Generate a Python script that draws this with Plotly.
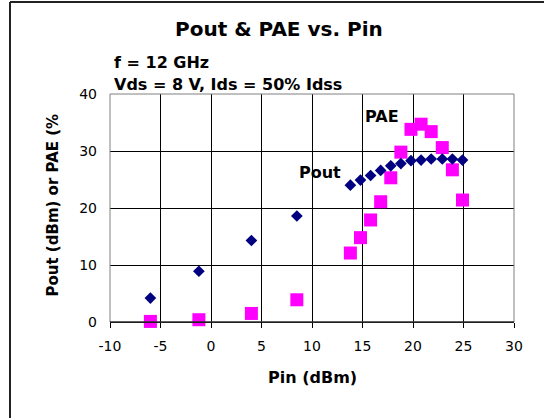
import plotly.graph_objects as go

pin = [-6.0, -1.2, 4.0, 8.5, 13.8, 14.8, 15.8, 16.8, 17.8, 18.8, 19.8, 20.8, 21.8, 22.9, 23.9, 24.9]
pout = [4.2, 8.9, 14.3, 18.6, 24.0, 24.9, 25.7, 26.6, 27.4, 27.8, 28.3, 28.4, 28.6, 28.6, 28.6, 28.4]
pae = [0.1, 0.4, 1.5, 3.9, 12.1, 14.8, 17.9, 21.1, 25.3, 29.8, 33.8, 34.7, 33.4, 30.6, 26.7, 21.4]

x_ticks = [-10, -5, 0, 5, 10, 15, 20, 25, 30]
y_ticks = [0, 10, 20, 30, 40]

title_text = "Pout & PAE vs. Pin"
note1 = "f = 12 GHz"
note2 = "Vds = 8 V, Ids = 50% Idss"
x_title = "Pin (dBm)"
y_title = "Pout (dBm) or PAE (%"

BOLD = "DejaVu Sans"
REG = "DejaVu Sans"

fig = go.Figure()
fig.add_trace(go.Scatter(
    x=pin, y=pae, mode="markers", name="PAE",
    marker=dict(symbol="square", size=13, color="#FF00FF",
                line=dict(width=0)),
    cliponaxis=False))
fig.add_trace(go.Scatter(
    x=pin, y=pout, mode="markers", name="Pout",
    marker=dict(symbol="diamond", size=9, color="#000080",
                line=dict(width=0)),
    cliponaxis=False))

fig.update_layout(
    width=544, height=418,
    margin=dict(l=110, r=30, t=94, b=96),
    paper_bgcolor="white", plot_bgcolor="white",
    showlegend=False,
    xaxis=dict(range=[-10, 30], tickvals=x_ticks, ticktext=[str(v) for v in x_ticks],
               showgrid=True, gridcolor="#000000", gridwidth=1,
               zeroline=False, showline=True, linecolor="#000000", linewidth=1,
               ticks="outside", ticklen=5, tickcolor="#000000",
               tickfont=dict(family=REG, size=14, color="#000000"),
               ticklabelstandoff=6),
    yaxis=dict(range=[0, 40], tickvals=y_ticks, ticktext=[str(v) for v in y_ticks],
               showgrid=True, gridcolor="#000000", gridwidth=1,
               zeroline=False, showline=False,
               ticks="", tickfont=dict(family=REG, size=14, color="#000000"),
               ticklabelstandoff=12),
    font=dict(family=REG, color="#000000"),
)

# plot area border (gray)
fig.add_shape(type="rect", xref="paper", yref="paper", x0=0, y0=0, x1=1, y1=1,
              line=dict(color="#808080", width=1), layer="above")
# redraw x axis line black on top
fig.add_shape(type="line", xref="paper", yref="paper", x0=0, y0=0, x1=1, y1=0,
              line=dict(color="#000000", width=1), layer="above")
# outer chart frame (left and top edges visible)
fig.add_shape(type="line", xref="paper", yref="paper",
              x0=(10 - 110) / 404, y0=(322.5 - 2.5) / 228, x1=1.2, y1=(322.5 - 2.5) / 228,
              line=dict(color="#222222", width=2))
fig.add_shape(type="line", xref="paper", yref="paper",
              x0=(10 - 110) / 404, y0=(322.5 - 2.5) / 228, x1=(10 - 110) / 404, y1=-0.6,
              line=dict(color="#222222", width=2))

ann = []
ann.append(dict(text="<b>%s</b>" % title_text, xref="paper", yref="paper",
                x=(279 - 110) / 404, y=(322.5 - 30) / 228, xanchor="center", yanchor="middle",
                showarrow=False, font=dict(family=BOLD, size=20, color="#000000")))
ann.append(dict(text="<b>%s</b>" % note1, xref="paper", yref="paper",
                x=(112 - 110) / 404, y=(322.5 - 62.5) / 228, xanchor="left", yanchor="middle",
                showarrow=False, font=dict(family=BOLD, size=16, color="#000000")))
ann.append(dict(text="<b>%s</b>" % note2, xref="paper", yref="paper",
                x=(112 - 110) / 404, y=(322.5 - 85) / 228, xanchor="left", yanchor="middle",
                showarrow=False, font=dict(family=BOLD, size=16, color="#000000")))
ann.append(dict(text="<b>PAE</b>", xref="x", yref="y", x=15.0, y=36.0,
                xanchor="left", yanchor="middle", showarrow=False,
                font=dict(family=BOLD, size=16, color="#000000")))
ann.append(dict(text="<b>Pout</b>", xref="x", yref="y", x=8.5, y=26.3,
                xanchor="left", yanchor="middle", showarrow=False,
                font=dict(family=BOLD, size=16, color="#000000")))
ann.append(dict(text="<b>%s</b>" % x_title, xref="paper", yref="paper",
                x=(312.6 - 110) / 404, y=(322.5 - 377.7) / 228, xanchor="center", yanchor="middle",
                showarrow=False, font=dict(family=BOLD, size=16, color="#000000")))
ann.append(dict(text="<b>%s</b>" % y_title, xref="paper", yref="paper",
                x=(52 - 110) / 404, y=(322.5 - 206) / 228, xanchor="center", yanchor="middle",
                textangle=-90, showarrow=False,
                font=dict(family=BOLD, size=15, color="#000000")))
fig.update_layout(annotations=ann)

fig.write_html("out.html", config={"displayModeBar": False},
               post_script="document.body.style.margin='0';document.body.style.overflow='hidden';")
